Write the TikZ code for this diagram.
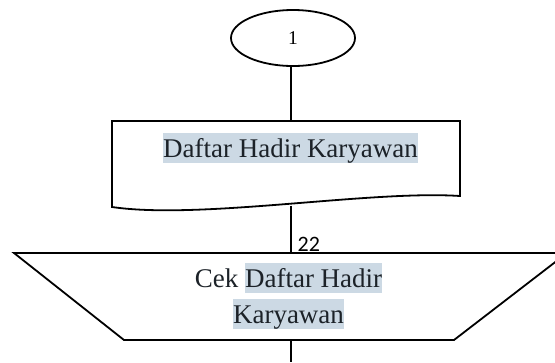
\documentclass[tikz,border=0pt]{standalone}
\usepackage{fontspec}
\setmainfont{Liberation Serif}
\newfontfamily\labelfont{Carlito}
\usetikzlibrary{shapes.geometric}
\definecolor{hlblue}{RGB}{204,217,228}
\definecolor{inkdark}{RGB}{28,34,40}
% text highlight with a fixed-height strip behind it
\newcommand{\hlt}[1]{{\fboxsep=0pt\colorbox{hlblue}{\rule[-6pt]{0pt}{30pt}#1}}}
\begin{document}
\begin{tikzpicture}[x=1pt,y=-1pt,
  outline/.style={draw=black,line width=1.8pt},
  bigtext/.style={inner sep=0pt,text=inkdark,font=\fontsize{27}{36}\selectfont},
  link/.style={draw=black,line width=1.8pt}]
\useasboundingbox (0,0) rectangle (555,362);
\fill[white] (0,0) rectangle (555,362);

% connector node
\node[outline,ellipse,minimum width=124pt,minimum height=56pt,inner sep=0pt,
      font=\fontsize{19.5}{22}\selectfont] (start) at (293,38) {1};

% document shape with a wavy lower edge
\coordinate (docTop) at (291,121);
\coordinate (docBot) at (291,205.5);
\draw[outline] (112,207) -- (112,121) -- (460,121) -- (460,196)
  .. controls (370,190) and (200,220) .. (112,207) -- cycle;
\node[bigtext,anchor=base] (doc) at (290.5,157) {\hlt{Daftar Hadir Karyawan}};

% manual operation (trapezoid)
\coordinate (trTop) at (291,253);
\coordinate (trBot) at (291,340);
\coordinate (exitEnd) at (291,362);
\draw[outline] (14,253) -- (567,253) -- (454,340) -- (124,340) -- cycle;
\node[bigtext,align=center,anchor=north] (check) at (288.5,263)
  {Cek \hlt{Daftar Hadir}\\\hlt{Karyawan}};

% flow lines
\draw[link] (docTop |- start.south) -- (docTop);
\draw[link] (docBot) -- (trTop);
\draw[link] (trBot) -- (exitEnd);
\node[inner sep=0pt,anchor=south west,font=\labelfont\fontsize{22}{24}\selectfont]
  (lbl) at (297.5,251.5) {22};
\end{tikzpicture}
\end{document}
